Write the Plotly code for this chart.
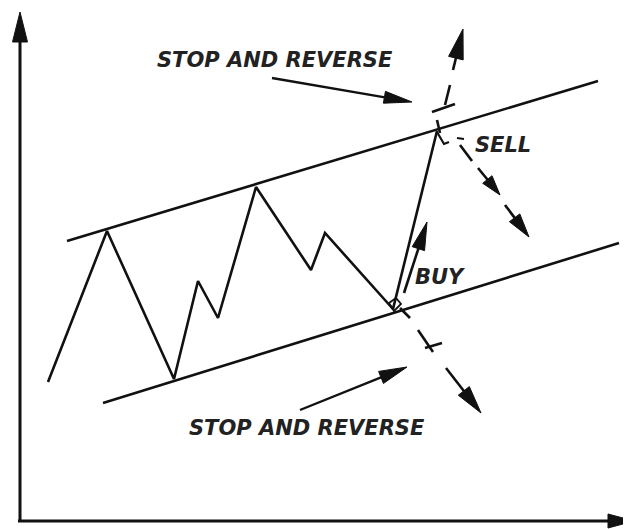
import math
import plotly.graph_objects as go

# ---- data (diagram units: x to the right, y upward; 1 unit = 1 px) ----
price_x = [48, 107, 174, 198, 218, 256, 311, 325, 393, 437]
price_y = [147, 298, 150, 248, 211, 342, 259, 296, 220, 398]

upper_x = [67, 598]
upper_y = [288, 448]
lower_x = [103, 619]
lower_y = [126, 286]

labels = ["STOP AND REVERSE", "STOP AND REVERSE", "SELL", "BUY"]
label_x = [275, 307, 503, 440]
label_y = [469, 101, 384, 252]

INK = "#111111"
fig = go.Figure()


def seg(xs, ys, w=2.6, dash=None):
    fig.add_trace(go.Scatter(x=xs, y=ys, mode="lines", hoverinfo="skip",
                             line=dict(color=INK, width=w, dash=dash),
                             showlegend=False))


def arrow(tail, tip, L, W, lw=2.6):
    dx, dy = tip[0] - tail[0], tip[1] - tail[1]
    n = math.hypot(dx, dy)
    ux, uy = dx / n, dy / n
    bx, by = tip[0] - ux * L, tip[1] - uy * L
    nx, ny = -uy, ux
    seg([tail[0], bx + ux * 2], [tail[1], by + uy * 2], w=lw)
    fig.add_trace(go.Scatter(
        x=[bx + nx * W / 2, tip[0], bx - nx * W / 2, bx + nx * W / 2],
        y=[by + ny * W / 2, tip[1], by - ny * W / 2, by + ny * W / 2],
        mode="lines", fill="toself", fillcolor=INK, hoverinfo="skip",
        line=dict(color=INK, width=1), showlegend=False))


# axes
arrow((20, 7), (20, 517), 30, 15, lw=3)
arrow((18, 8), (634, 8), 26, 14, lw=3)

# channel lines and price path
seg(upper_x, upper_y)
seg(lower_x, lower_y)
seg(price_x, price_y)

# stop-and-reverse pointers
arrow((272, 451), (412, 427), 28, 12, lw=2.4)
arrow((300, 119), (407, 162), 28, 13, lw=2.4)

# upward dashed breakout arrow with stop mark
seg([437, 440], [409, 396])
seg([450, 445], [444, 424])
seg([432, 455], [417, 425])
arrow((453, 459), (463, 500), 30, 15)

# sell signal
seg([437, 444, 449], [397, 385, 387], w=2.2)
seg([457, 464], [391, 390], w=2.2)
seg([460, 472], [384, 368])
arrow((478, 361), (500, 334), 20, 12)
arrow((505, 324), (529, 292), 24, 13)

# buy signal
seg([389, 396, 401, 394, 389], [226, 231, 225, 218, 226], w=1.8)
arrow((404, 236), (427, 307), 28, 13)

# downward dashed breakdown arrow with stop mark
seg([400, 410], [221, 211])
seg([418, 433], [199, 177])
seg([425, 442], [181, 186])
arrow((446, 161), (481, 116), 28, 14)

for t, x, y in zip(labels, label_x, label_y):
    fig.add_annotation(x=x, y=y, text=t, showarrow=False,
                       font=dict(family="DejaVu Sans", size=21, color="#222222",
                                 weight="bold", style="italic"))

# the page body adds an 8 px margin, so the figure starts at page pixel 8
fig.update_layout(
    width=623, height=521,
    margin=dict(l=0, r=0, t=0, b=0),
    paper_bgcolor="white", plot_bgcolor="white",
    xaxis=dict(range=[8, 631], visible=False, fixedrange=True),
    yaxis=dict(range=[0, 521], visible=False, fixedrange=True),
    showlegend=False,
)

fig.write_html("out.html")
